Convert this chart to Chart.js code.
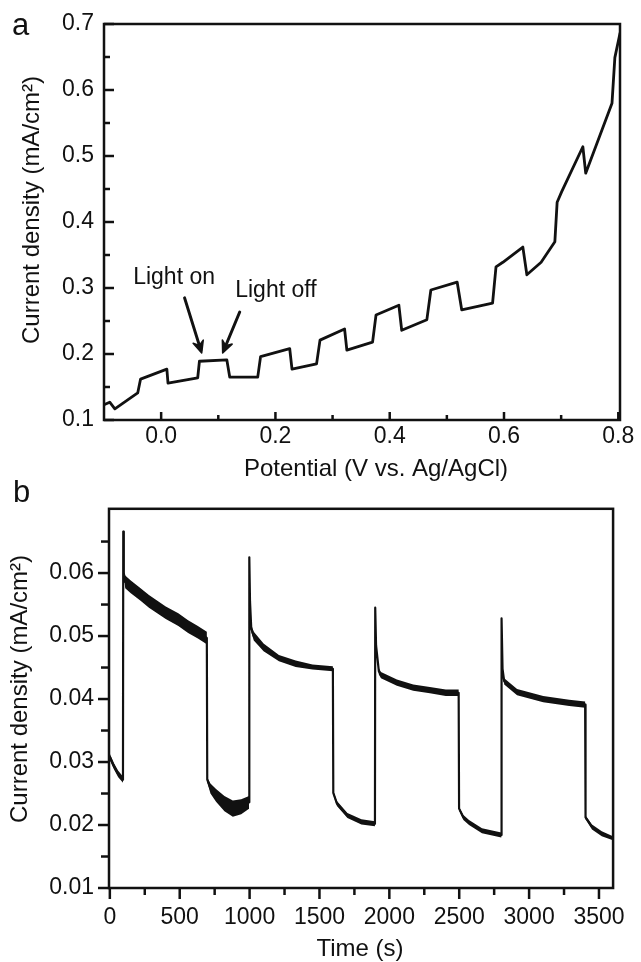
<!DOCTYPE html>
<html>
<head>
<meta charset="utf-8">
<script src="https://cdn.jsdelivr.net/npm/chart.js@4.4.1/dist/chart.umd.min.js"></script>
<style>
html,body{margin:0;padding:0;background:#fff;}
#wrap{position:relative;width:641px;height:962px;overflow:hidden;background:#fff;}
canvas{position:absolute;left:0;}
#ca{top:0;}
#cb{top:480px;}
</style>
</head>
<body>
<div id="wrap">
<canvas id="ca" width="641" height="485"></canvas>
<canvas id="cb" width="641" height="482"></canvas>
</div>
<script>
// ---------- Panel a: chopped-light linear sweep ----------
const potentialV = [-0.100,-0.090,-0.081,-0.041,-0.036,0.010,0.012,0.064,0.067,0.115,0.120,0.169,0.174,0.225,0.229,0.272,0.278,0.321,0.325,0.370,0.376,0.416,0.421,0.465,0.472,0.518,0.526,0.580,0.586,0.598,0.633,0.640,0.665,0.689,0.693,0.701,0.738,0.743,0.789,0.794,0.803];
const currentA   = [0.123,0.127,0.117,0.141,0.162,0.177,0.156,0.164,0.189,0.191,0.165,0.165,0.196,0.208,0.177,0.185,0.221,0.238,0.206,0.218,0.259,0.274,0.236,0.252,0.297,0.309,0.267,0.277,0.332,0.339,0.362,0.320,0.339,0.370,0.430,0.446,0.514,0.474,0.580,0.649,0.686];
const xTicksA = [0.0,0.2,0.4,0.6,0.8];
const xTickLabelsA = ['0.0','0.2','0.4','0.6','0.8'];
const xMinorA = [0.1,0.3,0.5,0.7];
const yTicksA = [0.1,0.2,0.3,0.4,0.5,0.6,0.7];
const yTickLabelsA = ['0.1','0.2','0.3','0.4','0.5','0.6','0.7'];
const yMinorA = [0.15,0.25,0.35,0.45,0.55,0.65];

// ---------- Panel b: chopped-light i-t curve ----------
const timeS = [0,30,60,94,96,100,110,150,220,280,400,490,560,630,694,697,720,760,820,880,940,996,998,1003,1012,1030,1100,1210,1330,1450,1596,1599,1625,1700,1800,1897,1899,1905,1925,1940,2054,2171,2290,2404,2496,2499,2530,2570,2663,2801,2803,2810,2822,2914,3101,3287,3401,3404,3450,3520,3600];
const currentB = [0.0308,0.0293,0.0281,0.0272,0.0666,0.0600,0.0586,0.0578,0.0566,0.0555,0.0537,0.0526,0.0515,0.0506,0.0497,0.0272,0.0258,0.0247,0.0234,0.0226,0.0229,0.0236,0.0625,0.0555,0.0512,0.0500,0.0482,0.0465,0.0456,0.0451,0.0448,0.0251,0.0234,0.0215,0.0205,0.0202,0.0545,0.0485,0.0444,0.0438,0.0426,0.0418,0.0414,0.0410,0.0410,0.0226,0.0212,0.0204,0.0191,0.0184,0.0528,0.0448,0.0428,0.0411,0.0400,0.0394,0.0391,0.0212,0.0197,0.0186,0.0179];
// half-width of the visible noise band around the trace
const noiseB = [0.0005,0.0005,0.0005,0.0005,0,0.0002,0.0010,0.0010,0.0010,0.0010,0.0010,0.0010,0.0010,0.0010,0.0010,0.0004,0.0008,0.0010,0.0012,0.0013,0.0012,0.0010,0,0.0003,0.0006,0.0007,0.0006,0.0005,0.0005,0.0004,0.0004,0.0003,0.0004,0.0004,0.0004,0.0004,0,0.0002,0.0005,0.0005,0.0005,0.0005,0.0005,0.0005,0.0005,0.0003,0.0004,0.0004,0.0004,0.0004,0,0.0002,0.0005,0.0005,0.0005,0.0005,0.0005,0.0003,0.0004,0.0004,0.0003];
const xTicksB = [0,500,1000,1500,2000,2500,3000,3500];
const xTickLabelsB = ['0','500','1000','1500','2000','2500','3000','3500'];
const xMinorB = [250,750,1250,1750,2250,2750,3250];
const yTicksB = [0.01,0.02,0.03,0.04,0.05,0.06];
const yTickLabelsB = ['0.01','0.02','0.03','0.04','0.05','0.06'];
const yMinorB = [0.015,0.025,0.035,0.045,0.055,0.065];

// ---------- common ----------
const INK = '#111';
const FONT = "'Liberation Sans', Arial, Helvetica, sans-serif";
Chart.defaults.font.family = FONT;
Chart.defaults.color = INK;

const decorPlugin = {
  id: 'decor',
  afterDatasetsDraw(chart, args, o) {
    const {ctx, chartArea: a, scales: {x, y}} = chart;
    ctx.save();
    ctx.strokeStyle = INK;
    ctx.fillStyle = INK;
    ctx.lineWidth = o.lineWidth;
    ctx.lineCap = 'butt';
    const seg = (x1, y1, x2, y2) => { ctx.beginPath(); ctx.moveTo(x1, y1); ctx.lineTo(x2, y2); ctx.stroke(); };
    const sx = o.inward ? -1 : 1;
    o.xMajor.forEach(v => { const p = x.getPixelForValue(v); seg(p, a.bottom, p, a.bottom + sx * o.xMajorLen); });
    o.xMinor.forEach(v => { const p = x.getPixelForValue(v); seg(p, a.bottom, p, a.bottom + sx * o.xMinorLen); });
    o.yMajor.forEach(v => { const p = y.getPixelForValue(v); seg(a.left, p, a.left - sx * o.yMajorLen, p); });
    o.yMinor.forEach(v => { const p = y.getPixelForValue(v); seg(a.left, p, a.left - sx * o.yMinorLen, p); });
    ctx.lineJoin = 'miter';
    ctx.strokeRect(a.left, a.top, a.right - a.left, a.bottom - a.top);

    // arrows anchored in data coordinates
    (o.arrows || []).forEach(ar => {
      const x1 = x.getPixelForValue(ar.from[0]), y1 = y.getPixelForValue(ar.from[1]);
      const x2 = x.getPixelForValue(ar.to[0]), y2 = y.getPixelForValue(ar.to[1]);
      const ang = Math.atan2(y2 - y1, x2 - x1);
      ctx.lineWidth = 3;
      ctx.lineCap = 'round';
      seg(x1, y1, x2 - 3 * Math.cos(ang), y2 - 3 * Math.sin(ang));
      ctx.beginPath();
      ctx.moveTo(x2, y2);
      ctx.lineTo(x2 - 13 * Math.cos(ang - 0.42), y2 - 13 * Math.sin(ang - 0.42));
      ctx.lineTo(x2 - 8 * Math.cos(ang), y2 - 8 * Math.sin(ang));
      ctx.lineTo(x2 - 13 * Math.cos(ang + 0.42), y2 - 13 * Math.sin(ang + 0.42));
      ctx.closePath();
      ctx.fill();
      ctx.lineWidth = 1.5;
      ctx.lineJoin = 'round';
      ctx.stroke();
    });
    // annotations anchored in data coordinates
    (o.notes || []).forEach(n => {
      ctx.font = n.size + 'px ' + FONT;
      ctx.textAlign = 'left';
      ctx.textBaseline = 'alphabetic';
      ctx.fillText(n.text, x.getPixelForValue(n.at[0]), y.getPixelForValue(n.at[1]));
    });
    // axis titles and panel letter (layout positions)
    (o.texts || []).forEach(t => {
      ctx.save();
      ctx.font = t.size + 'px ' + FONT;
      ctx.textAlign = t.align || 'center';
      ctx.textBaseline = 'alphabetic';
      ctx.translate(t.x, t.y);
      if (t.rot) ctx.rotate(t.rot);
      ctx.fillText(t.text, 0, 0);
      ctx.restore();
    });
    ctx.restore();
  }
};

function axisOpts(min, max, ticks, labels, pad, size, horizontal) {
  return {
    type: 'linear', min, max,
    grid: { display: false, drawTicks: false },
    border: { display: false },
    title: { display: false },
    afterBuildTicks: s => { s.ticks = ticks.map(v => ({ value: v })); },
    afterFit: s => { if (horizontal) s.height = size; else s.width = size; },
    ticks: {
      autoSkip: false, maxRotation: 0, minRotation: 0, padding: pad,
      font: { size: 23 }, color: INK,
      callback: (v, i) => labels[i]
    }
  };
}

// ----- chart a -----
new Chart(document.getElementById('ca'), {
  type: 'line',
  data: {
    datasets: [{
      label: 'Current density',
      data: potentialV.map((v, i) => ({ x: v, y: currentA[i] })),
      borderColor: INK, borderWidth: 2.8, pointRadius: 0, tension: 0,
      borderJoinStyle: 'round', borderCapStyle: 'round', fill: false
    }]
  },
  options: {
    responsive: false, animation: false, events: [],
    layout: { padding: { top: 24, right: 21, left: 0, bottom: 0 } },
    plugins: {
      legend: { display: false }, tooltip: { enabled: false },
      decor: {
        inward: true, lineWidth: 2.5,
        xMajor: xTicksA, xMinor: xMinorA, yMajor: yTicksA, yMinor: yMinorA,
        xMajorLen: 8, xMinorLen: 5, yMajorLen: 10, yMinorLen: 6,
        arrows: [
          { from: [0.041, 0.285], to: [0.071, 0.2015] },
          { from: [0.1375, 0.2636], to: [0.1077, 0.2015] }
        ],
        notes: [
          { text: 'Light on', at: [-0.049, 0.3061], size: 23 },
          { text: 'Light off', at: [0.1296, 0.2864], size: 23 }
        ],
        texts: [
          { text: 'a', x: 12, y: 35, size: 31, align: 'left' },
          { text: 'Current density (mA/cm\u00B2)', x: 39, y: 210, size: 24, rot: -Math.PI / 2 },
          { text: 'Potential (V vs. Ag/AgCl)', x: 376, y: 476, size: 24 }
        ]
      }
    },
    scales: {
      x: axisOpts(-0.1, 0.803, xTicksA, xTickLabelsA, 3, 65, true),
      y: axisOpts(0.1, 0.7, yTicksA, yTickLabelsA, 10, 104, false)
    }
  },
  plugins: [decorPlugin]
});

// ----- chart b -----
const upperB = currentB.map((v, i) => ({ x: timeS[i], y: v + noiseB[i] }));
const lowerB = currentB.map((v, i) => ({ x: timeS[i], y: v - noiseB[i] }));
new Chart(document.getElementById('cb'), {
  type: 'line',
  data: {
    datasets: [
      { label: 'noise upper', data: upperB, borderWidth: 0, borderColor: 'rgba(0,0,0,0)', pointRadius: 0, tension: 0, fill: '+1', backgroundColor: INK },
      { label: 'noise lower', data: lowerB, borderWidth: 0, borderColor: 'rgba(0,0,0,0)', pointRadius: 0, tension: 0, fill: false },
      { label: 'Current density', data: currentB.map((v, i) => ({ x: timeS[i], y: v })), borderColor: INK, borderWidth: 2.2, pointRadius: 0, tension: 0, borderJoinStyle: 'round', fill: false }
    ]
  },
  options: {
    responsive: false, animation: false, events: [],
    layout: { padding: { top: 25, right: 16, left: 0, bottom: 0 } },
    plugins: {
      legend: { display: false }, tooltip: { enabled: false },
      decor: {
        inward: false, lineWidth: 2.5,
        xMajor: xTicksB, xMinor: xMinorB, yMajor: yTicksB, yMinor: yMinorB,
        xMajorLen: 11, xMinorLen: 7, yMajorLen: 11, yMinorLen: 8,
        texts: [
          { text: 'b', x: 13, y: 22, size: 31, align: 'left' },
          { text: 'Current density (mA/cm\u00B2)', x: 27, y: 209, size: 24, rot: -Math.PI / 2 },
          { text: 'Time (s)', x: 360, y: 476, size: 24 }
        ]
      }
    },
    scales: {
      x: axisOpts(-6, 3601, xTicksB, xTickLabelsB, 16, 74, true),
      y: axisOpts(0.01, 0.0702, yTicksB, yTickLabelsB, 15, 109, false)
    }
  },
  plugins: [decorPlugin]
});
</script>
</body>
</html>
